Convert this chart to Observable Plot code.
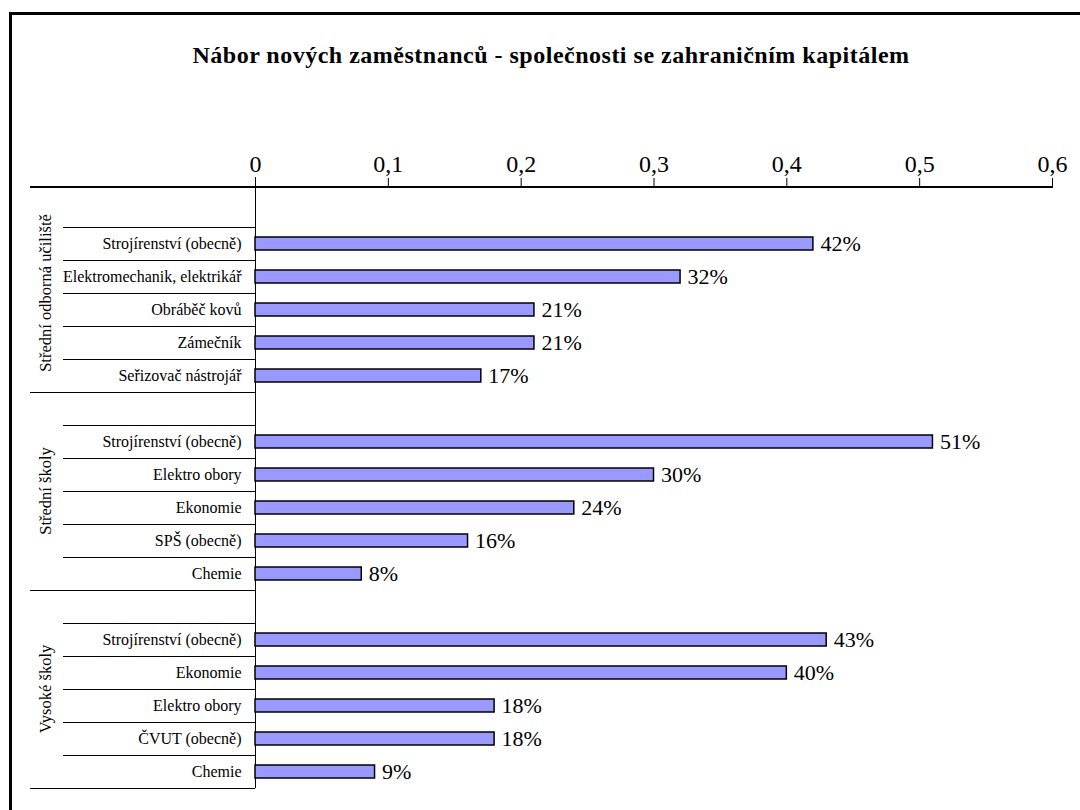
<!DOCTYPE html>
<html><head><meta charset="utf-8">
<script src="https://cdn.jsdelivr.net/npm/d3@7"></script>
<script src="https://cdn.jsdelivr.net/npm/@observablehq/plot@0.6"></script>
<style>
html,body{margin:0;padding:0;background:#fff;}
#wrap{position:relative;width:1080px;height:810px;overflow:hidden;}
#border{position:absolute;left:9px;top:12px;width:1100px;height:830px;border:3px solid #000;box-sizing:border-box;}
#title{position:absolute;left:0;top:42px;width:1102px;text-align:center;font:bold 24px "Liberation Serif", serif;letter-spacing:0.5px;color:#000;}
#chart{position:absolute;left:0;top:0;}
#chart svg, #chart svg text, #chart svg g { font-family: "Liberation Serif", "Times New Roman", serif !important; }
</style></head>
<body><div id="wrap"><div id="border"></div><div id="chart"></div><div id="title">Nábor nových zaměstnanců - společnosti se zahraničním kapitálem</div></div>
<script>
const groups = ["Střední odborná učiliště", "Střední školy", "Vysoké školy"];
const souCategories = ["Strojírenství (obecně)", "Elektromechanik, elektrikář", "Obráběč kovů", "Zámečník", "Seřizovač nástrojář"];
const souValues = [0.42, 0.32, 0.21, 0.21, 0.17];
const ssCategories = ["Strojírenství (obecně)", "Elektro obory", "Ekonomie", "SPŠ (obecně)", "Chemie"];
const ssValues = [0.51, 0.30, 0.24, 0.16, 0.08];
const vsCategories = ["Strojírenství (obecně)", "Ekonomie", "Elektro obory", "ČVUT (obecně)", "Chemie"];
const vsValues = [0.43, 0.40, 0.18, 0.18, 0.09];
const xTicks = [0, 0.1, 0.2, 0.3, 0.4, 0.5, 0.6];

const SERIF = '"Liberation Serif", "Times New Roman", serif';
const groupCats = [souCategories, ssCategories, vsCategories];
const groupVals = [souValues, ssValues, vsValues];
const rows = [];
groups.forEach((g, gi) => {
  rows.push({key: gi + "|", group: g, gi, cat: null, value: null});
  groupCats[gi].forEach((c, ci) => rows.push({key: gi + "|" + c, group: g, gi, cat: c, value: groupVals[gi][ci]}));
});
const barRows = rows.filter(d => d.cat !== null);
const fmt = d => d === 0 ? "0" : String(d).replace(".", ",");

function decorations(index, scales, values, dims) {
  const x = scales.x, y = scales.y;
  const g = d3.create("svg:g");
  const rh = y(rows[1].key) - y(rows[0].key);
  const top = dims.marginTop;
  const bottom = y(rows[rows.length - 1].key) + rh;
  const x0 = x(0);
  const line = (x1, y1, x2, y2, w) => g.append("line").attr("x1", x1).attr("y1", y1).attr("x2", x2).attr("y2", y2)
    .attr("stroke", "#000").attr("stroke-width", w).attr("shape-rendering", "crispEdges");
  line(30, top, x(0.6), top, 1.5);
  line(x0, top - 10, x0, bottom, 1);
  rows.forEach((r, i) => {
    if (i === 0) return;
    if (r.cat === null) line(30, y(r.key), x0, y(r.key), 1);
    else line(63, y(r.key), x0, y(r.key), 1);
  });
  line(30, bottom, x0, bottom, 1);
  groups.forEach((gname, gi) => {
    const gr = rows.filter(r => r.gi === gi);
    const gy0 = y(gr[0].key), gy1 = y(gr[gr.length - 1].key) + rh;
    g.append("text").attr("transform", `translate(45,${(gy0 + gy1) / 2}) rotate(-90)`)
      .attr("text-anchor", "middle").attr("dy", "0.35em")
      .style("font-family", SERIF).attr("font-size", 16.5).attr("fill", "#000").text(gname);
  });
  return g.node();
}

const chart = Plot.plot({
  width: 1080, height: 810,
  marginTop: 187, marginBottom: 15, marginLeft: 255, marginRight: 28,
  style: {fontFamily: SERIF, fontSize: "24px", color: "#000", background: "transparent", overflow: "visible"},
  x: {domain: [0, 0.6], axis: "top", ticks: xTicks, tickSize: 10, tickPadding: 6, tickFormat: fmt, label: null},
  y: {domain: rows.map(d => d.key), axis: null, padding: 0},
  marks: [
    decorations,
    Plot.barX(barRows, {x: "value", y: "key", fill: "#9999FF", stroke: "#000", strokeWidth: 1.5, insetTop: 10, insetBottom: 10}),
    Plot.text(barRows, {x: "value", y: "key", text: d => Math.round(d.value * 100) + "%", textAnchor: "start", dx: 7, fontSize: 22, fontFamily: SERIF, fill: "#000"}),
    Plot.text(barRows, {x: 0, y: "key", text: "cat", textAnchor: "end", dx: -14, fontSize: 16, fontFamily: SERIF, fill: "#000"})
  ]
});
document.getElementById("chart").appendChild(chart);
</script>
</body></html>
